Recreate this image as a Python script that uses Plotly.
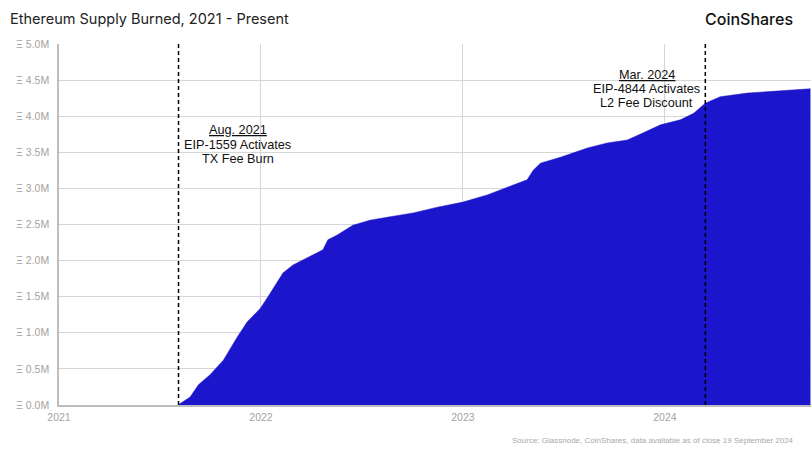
import plotly.graph_objects as go

# cumulative ETH burned (millions)
dates = [
    "2021-08-04", "2021-08-26", "2021-09-10", "2021-10-01", "2021-10-25",
    "2021-11-19", "2021-12-07", "2021-12-31", "2022-01-12", "2022-01-30",
    "2022-02-10", "2022-02-28", "2022-03-25", "2022-04-23", "2022-05-02",
    "2022-05-18", "2022-06-16", "2022-07-17", "2022-08-17", "2022-10-03",
    "2022-11-16", "2023-01-01", "2023-02-14", "2023-03-22", "2023-04-27",
    "2023-05-08", "2023-05-21", "2023-06-26", "2023-08-14", "2023-09-19",
    "2023-10-25", "2023-11-23", "2023-12-24", "2024-01-29", "2024-02-22",
    "2024-03-14", "2024-04-10", "2024-05-29", "2024-07-28", "2024-09-20",
]
burned_m = [
    0.00, 0.11, 0.28, 0.42, 0.62,
    0.94, 1.15, 1.34, 1.48, 1.70,
    1.83, 1.94, 2.04, 2.15, 2.29,
    2.35, 2.49, 2.56, 2.60, 2.66,
    2.74, 2.81, 2.91, 3.02, 3.12,
    3.25, 3.35, 3.43, 3.56, 3.63,
    3.67, 3.77, 3.88, 3.95, 4.04,
    4.18, 4.27, 4.32, 4.35, 4.38,
]

events = ["2021-08-05", "2024-03-14"]
event_labels = [
    ["<u>Aug. 2021</u>", "EIP-1559 Activates", "TX Fee Burn"],
    ["<u>Mar. 2024</u>", "EIP-4844 Activates", "L2 Fee Discount"],
]
label_x = ["2021-11-20", "2023-11-29"]
label_y = [[3.81, 3.60, 3.41], [4.57, 4.38, 4.18]]

y_ticks = [0, 0.5, 1.0, 1.5, 2.0, 2.5, 3.0, 3.5, 4.0, 4.5, 5.0]
y_tick_text = [f"Ξ {v:.1f}M" for v in y_ticks]
x_ticks = ["2021-01-01", "2022-01-01", "2023-01-01", "2024-01-01"]
x_tick_text = ["2021", "2022", "2023", "2024"]

BLUE = "#1b15cb"
GRID = "#d6d6d6"
TICK = "#a3a3a3"
ARIAL = "Liberation Sans, Arial"

fig = go.Figure()
fig.add_trace(go.Scatter(
    x=dates, y=burned_m, mode="lines", fill="tozeroy",
    line=dict(color=BLUE, width=0.5), fillcolor=BLUE,
    showlegend=False, hoverinfo="skip",
))

for d in events:
    fig.add_shape(type="line", xref="x", yref="paper", x0=d, x1=d, y0=0, y1=1,
                  line=dict(color="black", width=1.5, dash="4px,3px"))

for lx, ys, lines in zip(label_x, label_y, event_labels):
    for ly, txt in zip(ys, lines):
        fig.add_annotation(x=lx, y=ly, text=txt, showarrow=False,
                           xanchor="center", yanchor="middle",
                           font=dict(family=ARIAL, size=12.7, color="#111"))

fig.add_annotation(x=-0.068, y=1.072, xref="paper", yref="paper", showarrow=False,
                   xanchor="left", yanchor="middle",
                   text="Ethereum Supply Burned, 2021 - Present",
                   font=dict(family="Inter, Noto Sans", size=14.5, color="#222"))
fig.add_annotation(x=0.979, y=1.069, xref="paper", yref="paper", showarrow=False,
                   xanchor="right", yanchor="middle", text="CoinShares",
                   font=dict(family="Inter, Noto Sans", size=16, color="#111", weight=500))
fig.add_annotation(x=0.98, y=-0.0997, xref="paper", yref="paper", showarrow=False,
                   xanchor="right", yanchor="middle",
                   text="Source: Glassnode, CoinShares, data available as of close 19 September 2024",
                   font=dict(family=ARIAL, size=8, color="#a8a8a8"))

fig.update_layout(
    width=811, height=454,
    margin=dict(l=59, r=0, t=44, b=49),
    paper_bgcolor="white", plot_bgcolor="white",
    xaxis=dict(range=["2021-01-01", "2024-09-21"], tickvals=x_ticks, ticktext=x_tick_text,
               showgrid=True, gridcolor=GRID, gridwidth=1,
               showline=True, linecolor="#bdbdbd", linewidth=1.5,
               tickfont=dict(family=ARIAL, size=10.5, color=TICK),
               ticks="", ticklabelstandoff=2),
    yaxis=dict(range=[0, 5.0], tickvals=y_ticks, ticktext=y_tick_text,
               showgrid=True, gridcolor=GRID, gridwidth=1,
               showline=True, linecolor="#bdbdbd", linewidth=1.5,
               tickfont=dict(family=ARIAL, size=10.5, color=TICK),
               ticks="", zeroline=False, ticklabelstandoff=6),
)

# drop the default 8px body margin so the figure fills the window exactly
fig.write_html("out.html", config={"displayModeBar": False},
               post_script="document.body.style.margin='0';document.body.style.overflow='hidden';")
